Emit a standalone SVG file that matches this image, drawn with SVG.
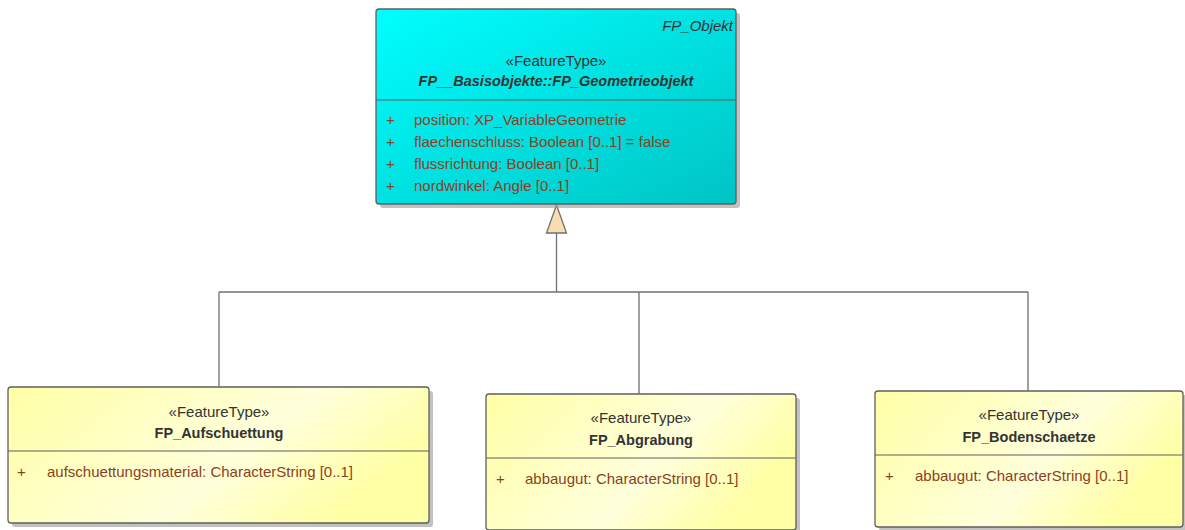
<svg xmlns="http://www.w3.org/2000/svg" width="1185" height="530" viewBox="0 0 1185 530">
<defs>
<linearGradient id="gc" x1="0" y1="0" x2="1" y2="1">
<stop offset="0" stop-color="#00FFFF"/>
<stop offset="1" stop-color="#00C4C4"/>
</linearGradient>
<linearGradient id="gy" x1="0" y1="0" x2="1" y2="0.4">
<stop offset="0" stop-color="#FFFFA6"/>
<stop offset="0.65" stop-color="#FFFFDC"/>
<stop offset="1" stop-color="#FFFFA6"/>
</linearGradient>
</defs>
<style>
.shadow{fill:#999;opacity:0.6}
.box{stroke:#5f5f5f;stroke-width:1.3}
.div{stroke:#5f5f5f;stroke-width:1.2}
text{font-family:"Liberation Sans",Arial,sans-serif;font-size:15px}
.st{fill:#333;text-anchor:middle}
.nm{fill:#333;text-anchor:middle;font-weight:bold;font-size:14.5px}
.at{fill:#8a3f1e}
.conn{stroke:#707070;stroke-width:1.3;fill:none}
</style>
<g id="connectors">
<path class="conn" d="M556.5 233 V292 M219 292 H1028 M219 292 V388 M639 292 V394 M1028 292 V391"/>
<polygon points="556.5,205 546.5,233 566.5,233" fill="#F7DDB0" stroke="#707070" stroke-width="1.3"/>
</g>
<g id="FP_Geometrieobjekt">
<rect class="shadow" x="380" y="13" width="360" height="195" rx="3"/>
<rect class="box" x="376" y="9" width="360" height="195" rx="3" fill="url(#gc)"/>
<line class="div" x1="376" y1="100" x2="736" y2="100"/>
<text x="733" y="31" text-anchor="end" font-style="italic" fill="#333">FP_Objekt</text>
<text class="st" x="556" y="66">«FeatureType»</text>
<text class="nm" x="556" y="86" font-style="italic">FP__Basisobjekte::FP_Geometrieobjekt</text>
<text class="at" x="386" y="125">+</text><text class="at" x="414" y="125">position: XP_VariableGeometrie</text>
<text class="at" x="386" y="147">+</text><text class="at" x="414" y="147">flaechenschluss: Boolean [0..1] = false</text>
<text class="at" x="386" y="169">+</text><text class="at" x="414" y="169">flussrichtung: Boolean [0..1]</text>
<text class="at" x="386" y="191">+</text><text class="at" x="414" y="191">nordwinkel: Angle [0..1]</text>
</g>
<g id="FP_Aufschuettung">
<rect class="shadow" x="12" y="391" width="421" height="136" rx="3"/>
<rect class="box" x="8" y="387" width="421" height="136" rx="3" fill="url(#gy)"/>
<line class="div" x1="8" y1="451" x2="429" y2="451"/>
<text class="st" x="219" y="417">«FeatureType»</text>
<text class="nm" x="219" y="438">FP_Aufschuettung</text>
<text class="at" x="17" y="477">+</text><text class="at" x="47" y="477">aufschuettungsmaterial: CharacterString [0..1]</text>
</g>
<g id="FP_Abgrabung">
<rect class="shadow" x="490" y="398" width="310" height="136" rx="3"/>
<rect class="box" x="486" y="394" width="310" height="136" rx="3" fill="url(#gy)"/>
<line class="div" x1="486" y1="458" x2="796" y2="458"/>
<text class="st" x="641" y="423">«FeatureType»</text>
<text class="nm" x="641" y="445">FP_Abgrabung</text>
<text class="at" x="496" y="484">+</text><text class="at" x="525" y="484">abbaugut: CharacterString [0..1]</text>
</g>
<g id="FP_Bodenschaetze">
<rect class="shadow" x="879" y="395" width="308" height="136" rx="3"/>
<rect class="box" x="875" y="391" width="308" height="136" rx="3" fill="url(#gy)"/>
<line class="div" x1="875" y1="455" x2="1183" y2="455"/>
<text class="st" x="1029" y="420">«FeatureType»</text>
<text class="nm" x="1029" y="442">FP_Bodenschaetze</text>
<text class="at" x="885" y="481">+</text><text class="at" x="915" y="481">abbaugut: CharacterString [0..1]</text>
</g>
</svg>
